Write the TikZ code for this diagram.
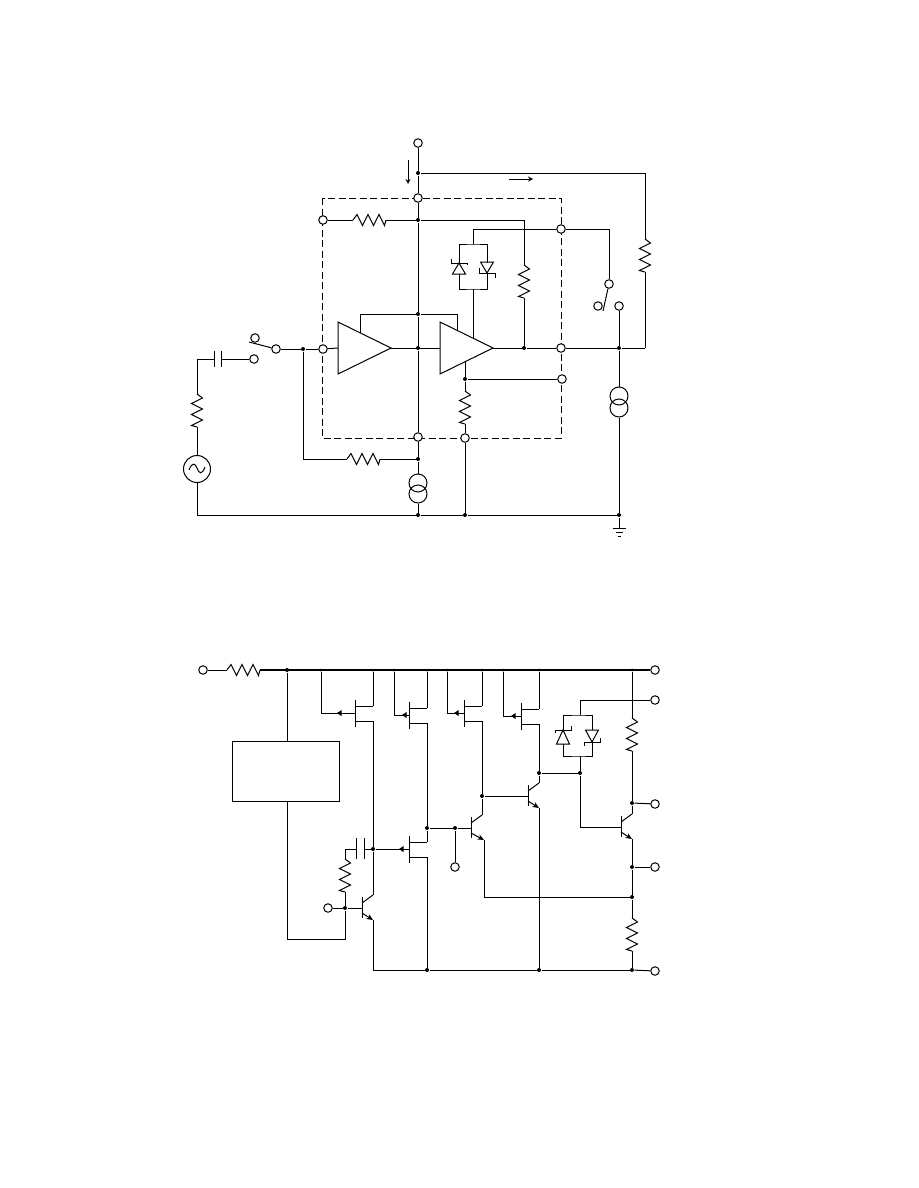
\documentclass[tikz,border=0pt]{standalone}
\usepackage{tikz}
\usetikzlibrary{arrows.meta}
\usetikzlibrary{positioning}

\tikzset{
	pin/.style={circle,draw,fill=white,inner sep=0pt,minimum size=8.5pt},
	dot/.style={circle,fill=black,inner sep=0pt,minimum size=4pt},
	csource/.style={circle,draw,inner sep=0pt,minimum size=18pt},
	gen/.style={circle,draw,inner sep=0pt,minimum size=27pt},
	icbox/.style={draw,inner sep=0pt,minimum width=107pt,minimum height=60pt},
	bus/.style={line width=2.2pt},
	flow/.style={-{Stealth[length=5pt,width=5pt]}},
	emit/.style={-{Stealth[length=6.5pt,width=5.5pt]}}
}
% #1 name, #2 x, #3 y
\newcommand{\resh}[3]{
	\coordinate (#1a) at (#2,#3);
	\coordinate (#1b) at ([xshift=33pt]#1a);
	\draw (#1a) -- ++(4,-5.5) -- ++(5.5,11) -- ++(5.5,-11) -- ++(5.5,11) -- ++(5.5,-11) -- ++(5.5,11) -- (#1b);
}
\newcommand{\resv}[3]{
	\coordinate (#1a) at (#2,#3);
	\coordinate (#1b) at ([yshift=-33pt]#1a);
	\draw (#1a) -- ++(5.5,4) -- ++(-11,5.5) -- ++(11,5.5) -- ++(-11,5.5) -- ++(11,5.5) -- ++(-11,5.5) -- (#1b);
}
% triangle amplifier, #2 x of the input side
\newcommand{\ampl}[3]{
	\coordinate (#1i) at (#2,#3);
	\coordinate (#1o) at ([xshift=53pt]#1i);
	\draw ([yshift=26pt]#1i) -- ([yshift=-26pt]#1i) -- (#1o) -- cycle;
}
\newcommand{\zener}[5]{
	\draw (#1-8,#2+#4) -- (#1-8,#2) -- (#1+8,#2) -- (#1+8,#2+#5);
	\draw (#1,#2) -- (#1-6.5,#2+#3) -- (#1+6.5,#2+#3) -- cycle;
}
% p channel, #2 x of the bar, #3 y of the gate, #4 where the gate arrow starts
\newcommand{\pfet}[4]{
	\coordinate (#1g) at (#2,#3);
	\coordinate (#1s) at (#2+18,#3-7);
	\coordinate (#1d) at (#2+18,#3+8);
	\draw (#2,#3-13) -- (#2,#3+14);
	\draw (#2,#3-7) -- (#1s);
	\draw (#2,#3+8) -- (#1d);
	\fill (#2-#4,#3) -- ++(4.5,-3) -- ++(0,6) -- cycle;
}
% #4 extra run of the emitter
\newcommand{\npn}[4]{
	\coordinate (#1b) at (#2,#3);
	\coordinate (#1c) at (#2+11,#3-13);
	\coordinate (#1e) at (#2+11+#4,#3+12);
	\draw (#2,#3-11) -- (#2,#3+10);
	\draw (#2,#3-5) -- (#1c);
	\draw[emit] (#2,#3+5) -- (#1e);
}

\begin{document}
\begin{tikzpicture}
	[x=1pt,y=-1pt,line width=1pt]
	\useasboundingbox (0,0) rectangle (918,1188);

	% upper circuit
	\draw[dash pattern=on 7pt off 3.5pt] (322,198) rectangle (561,438);

	\node[pin] (vcc) at (418,143) {};
	\node[pin] (p1) at (418,198) {};
	\node[pin] (p2) at (323,220) {};
	\node[pin] (p3) at (561,229) {};
	\node[pin] (p4) at (323,349) {};
	\node[pin] (p5) at (561,348) {};
	\node[pin] (p6) at (562,379) {};
	\node[pin] (p7) at (418,437) {};
	\node[pin] (p8) at (465,438) {};
	\node[pin] (s1) at (255,338) {};
	\node[pin] (s2) at (254,359) {};
	\node[pin] (s3) at (276,349) {};
	\node[pin] (s4) at (609,284) {};
	\node[pin] (s5) at (598,306) {};
	\node[pin] (s6) at (619,306) {};

	\node[dot] (d1) at (418,173) {};
	\node[dot] (d2) at (418,220) {};
	\node[dot] (d3) at (418,314) {};
	\node[dot] (d4) at (418,348) {};
	\node[dot] (d5) at (524,348) {};
	\node[dot] (d6) at (303,349) {};
	\node[dot] (d7) at (465,379) {};
	\node[dot] (d8) at (418,459) {};
	\node[dot] (d9) at (418,515) {};
	\node[dot] (d10) at (465,515) {};
	\node[dot] (d11) at (619,515) {};
	\node[dot] (d12) at (619,348) {};

	\node[csource] (i1u) at (619,396) {};
	\node[csource] (i1l) at (619,408) {};
	\node[csource] (i2u) at (418,483) {};
	\node[csource] (i2l) at (418,494) {};
	\node[gen] (vs) at (197,469) {};
	\draw (189,470) .. controls (192,462) and (195,463) .. (197,468) .. controls (199,474) and (202,475) .. (205,467);

	\resh{r1}{353}{220}
	\resv{r2}{645}{239}
	\resv{r3}{524}{265}
	\resh{r4}{347}{459}
	\resv{r5}{465}{391}
	\resv{r6}{197}{394}

	\ampl{a1}{338}{348}
	\ampl{a2}{440}{348}
	\coordinate (a1t) at (360,333);
	\coordinate (a2t) at (457,330);
	\coordinate (a2v) at (473,338);
	\coordinate (a2b) at (465,361);

	% diodes
	\coordinate (z1) at (473,244);
	\coordinate (z2) at (473,289);
	\draw (459,263) |- (z1) -| (487,263);
	\draw (459,274) |- (z2) -| (487,274);
	\zener{459}{263}{11}{-4}{2}
	\zener{487}{273}{-11}{-5}{5}

	% capacitor
	\coordinate (c1) at (221,359);
	\coordinate (c2) at (214,359);
	\draw (221,351) -- (221,367);
	\draw (214,351) -- (214,367);

	\foreach \from/\to in
	{vcc/d1, d1/p1, p1/d2, d2/d3, d3/d4, d4/p7, p7/d8, d8/i2u, i2l/d9,
	p2/r1a, r1b/d2, r3b/d5, r2b/{645,348}, a1o/a2i, s3/d6, d6/p4, p4/a1i, r4b/d8,
	a2o/d5, d5/p5, p5/d12, d12/{645,348}, s6/d12, d12/i1u, i1l/d11,
	a2b/d7, d7/r5a, r5b/p8, p8/d10, d7/p6, s2/c1, r6b/vs, d9/d10, d10/d11, z2/a2v}
	\draw (\from) -- (\to);

	\draw (d1) -| (r2a);
	\draw (d2) -| (r3a);
	\draw (p3) -| (s4);
	\draw (p3) -| (z1);
	\draw (d3) -| (a1t);
	\draw (d3) -| (a2t);
	\draw (d6) |- (r4a);
	\draw (c2) -| (r6a);
	\draw (vs) |- (d9);

	% switches
	\coordinate (w1) at (249,342);
	\coordinate (w2) at (603,311);
	\draw (w1) -- (s3);
	\draw (s4) -- (w2);

	% ground
	\coordinate (g1) at (619,528);
	\draw (d11) -- (g1);
	\draw (613,528) -- (626,528);
	\draw (616,532) -- (623,532);
	\draw (618,536) -- (621,536);

	% current arrows
	\coordinate (f1) at (408,160);
	\coordinate (f2) at (408,184);
	\coordinate (f3) at (509,179);
	\coordinate (f4) at (533,179);
	\draw[flow] (f1) -- (f2);
	\draw[flow] (f3) -- (f4);

	% lower circuit
	\node[pin] (b1) at (203,670) {};
	\node[pin] (b2) at (655,670) {};
	\node[pin] (b3) at (655,700) {};
	\node[pin] (b4) at (655,804) {};
	\node[pin] (b5) at (655,867) {};
	\node[pin] (b6) at (655,971) {};
	\node[pin] (b7) at (455,867) {};
	\node[pin] (b8) at (328,908) {};

	\node[dot] (e1) at (287,670) {};
	\node[dot,minimum size=3pt] (e2) at (321,670) {};
	\node[dot,minimum size=3pt] (e3) at (373,670) {};
	\node[dot,minimum size=3pt] (e4) at (394,670) {};
	\node[dot,minimum size=3pt] (e5) at (427,670) {};
	\node[dot,minimum size=3pt] (e6) at (447,670) {};
	\node[dot,minimum size=3pt] (e7) at (482,670) {};
	\node[dot,minimum size=3pt] (e8) at (503,670) {};
	\node[dot,minimum size=3pt] (e9) at (539,670) {};
	\node[dot,minimum size=3pt] (e10) at (632,670) {};
	\node[dot] (e11) at (373,849) {};
	\node[dot] (e12) at (427,828) {};
	\node[dot] (e13) at (455,828) {};
	\node[dot] (e14) at (482,796) {};
	\node[dot] (e15) at (539,773) {};
	\node[dot] (e16) at (580,773) {};
	\node[dot] (e17) at (632,803) {};
	\node[dot] (e18) at (632,867) {};
	\node[dot] (e19) at (632,897) {};
	\node[dot] (e20) at (632,970) {};
	\node[dot] (e21) at (539,970) {};
	\node[dot] (e22) at (427,970) {};
	\node[dot] (e23) at (345,908) {};

	\node[icbox] (ic) at (285.5,771) {};
	\coordinate (ict) at (287,741);
	\coordinate (icb) at (287,801);
	\coordinate (icr) at (287,939);

	\resh{r7}{227}{670}
	\resv{r8}{632}{718}
	\resv{r9}{632}{918}
	\resv{r10}{345}{859}

	\pfet{t1}{355}{713}{18}
	\pfet{t2}{409}{715}{7}
	\pfet{t3}{464}{713}{10}
	\pfet{t4}{521}{716}{10}
	\pfet{t5}{409}{849}{10}
	\npn{q1}{362}{908}{0}
	\npn{q2}{471}{828}{2}
	\npn{q3}{528}{796}{0}
	\npn{q4}{621}{827}{0}

	% diodes
	\coordinate (z3) at (580,715);
	\coordinate (z4) at (580,756);
	\draw (563,744) |- (z4) -| (592,741);
	\draw (563,731) |- (z3) -| (592,730);
	\zener{563}{730}{14}{3}{-4}
	\zener{592}{742}{-12}{4}{-4}

	% capacitor
	\coordinate (c3) at (364,849);
	\coordinate (c4) at (356,849);
	\draw (364,838) -- (364,859);
	\draw (356,838) -- (356,859);

	\draw[bus] (r7b) -- (b2);
	\foreach \from/\to in
	{b1/r7a, e1/ict, icb/icr, e3/t1s, e5/t2s, e7/t3s, e9/t4s, e10/r8a, r8b/e17, q4c/e17, e17/b4,
	t1d/e11, e11/q1c, q1e/{373,970}, t2d/e12, e12/t5s, t5d/e22, e12/e13, e13/q2b, e13/b7,
	t3d/e14, e14/q2c, e14/q3b, t4d/e15, q3c/e15, e15/e16, e16/z4, q3e/e21,
	q4e/e18, e18/b5, e18/e19, e19/r9a, r9b/e20, e20/b6, {373,970}/e22, e22/e21, e21/e20,
	c3/e11, e11/t5g, r10b/e23, e23/b8, e23/q1b}
	\draw (\from) -- (\to);

	\draw (e2) |- (t1g);
	\draw (e4) |- (t2g);
	\draw (e6) |- (t3g);
	\draw (e8) |- (t4g);
	\draw (z3) |- (b3);
	\draw (e16) |- (q4b);
	\draw (q2e) |- (e19);
	\draw (c4) -| (r10a);
	\draw (icr) -| (e23);
	\end{tikzpicture}
\end{document}
